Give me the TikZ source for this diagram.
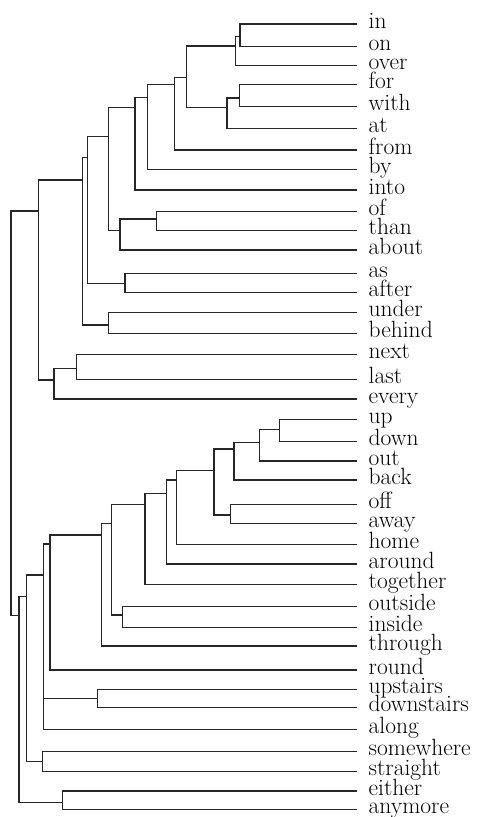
\documentclass[tikz,border=0pt]{standalone}
\usepackage{tikz}
\begin{document}
\begin{tikzpicture}[x=1pt,y=-1pt,
  lbl/.style={anchor=base west,inner sep=0pt,font=\fontsize{23.5}{26}\selectfont},
  branch/.style={line width=1.4pt,draw=black!85,line join=miter}]
\useasboundingbox (0,0) rectangle (484,817);
% leaves
\foreach \n/\y in {in/24, on/46.7, over/65.7, for/84.3, with/106.7, at/128.3, from/150, by/169.3, into/190,
  of/211.7, than/230.7, about/250, as/273.3, after/292.7, under/312.3, behind/333.3, next/354.3, last/379.3, every/399,
  up/419.3, down/441.7, out/461, back/480, off/504.3, away/523.3, home/544.3, around/564, together/584.3,
  outside/606.7, inside/627.7, through/646, round/670, upstairs/689.3, downstairs/707.7, along/729.3,
  somewhere/751.7, straight/771.7, either/791, anymore/809.3}{
  \coordinate (L-\n) at (356.7,\y);
  \node[lbl] (T-\n) at (368.5,\y+4.2) {\n};
}
% internal nodes
\coordinate (n1) at (240,36.7);
\coordinate (n2) at (235.5,46);
\coordinate (n3) at (239.5,98);
\coordinate (n4) at (227,107.3);
\coordinate (n5) at (186.5,77.3);
\coordinate (n6) at (174.5,84.3);
\coordinate (n7) at (147.3,97.7);
\coordinate (n8) at (135,107.3);
\coordinate (n9) at (156.7,219);
\coordinate (n10) at (120,230.7);
\coordinate (n11) at (108.3,136.7);
\coordinate (n12) at (125,283.3);
\coordinate (n13) at (87.3,157.3);
\coordinate (n14) at (108.3,325);
\coordinate (n15) at (82.3,180);
\coordinate (n16) at (76.7,368.3);
\coordinate (n17) at (54,380);
\coordinate (n18) at (38.3,211);
\coordinate (m1) at (279.3,429.3);
\coordinate (m2) at (259.3,442.3);
\coordinate (m3) at (234,449);
\coordinate (m4) at (230.7,515);
\coordinate (m5) at (214,470.7);
\coordinate (m6) at (176.7,480);
\coordinate (m7) at (166.7,493.3);
\coordinate (m8) at (145,504.3);
\coordinate (m9) at (122.7,615);
\coordinate (m10) at (111.7,523.3);
\coordinate (m11) at (101.7,535);
\coordinate (m12) at (50,544);
\coordinate (m13) at (97.7,698.3);
\coordinate (m14) at (43.3,575);
\coordinate (m15) at (42.7,761.7);
\coordinate (m16) at (26.7,596.7);
\coordinate (m17) at (62.3,802.7);
\coordinate (m18) at (19,615.7);
\coordinate (root) at (11,413);
% branches
\foreach \p/\c in {n1/L-in, n1/L-on, n2/n1, n2/L-over, n3/L-for, n3/L-with, n4/n3, n4/L-at,
  n5/n2, n5/n4, n6/n5, n6/L-from, n7/n6, n7/L-by, n8/n7, n8/L-into,
  n9/L-of, n9/L-than, n10/n9, n10/L-about, n11/n8, n11/n10, n12/L-as, n12/L-after,
  n13/n11, n13/n12, n14/L-under, n14/L-behind, n15/n13, n15/n14,
  n16/L-next, n16/L-last, n17/n16, n17/L-every, n18/n15, n18/n17,
  m1/L-up, m1/L-down, m2/m1, m2/L-out, m3/m2, m3/L-back, m4/L-off, m4/L-away,
  m5/m3, m5/m4, m6/m5, m6/L-home, m7/m6, m7/L-around, m8/m7, m8/L-together,
  m9/L-outside, m9/L-inside, m10/m8, m10/m9, m11/m10, m11/L-through,
  m12/m11, m12/L-round, m13/L-upstairs, m13/L-downstairs,
  m14/m12, m14/m13, m14/L-along, m15/L-somewhere, m15/L-straight,
  m16/m14, m16/m15, m17/L-either, m17/L-anymore, m18/m16, m18/m17,
  root/n18, root/m18}{
  \draw[branch] (\c) -- (\p |- \c) -- (\p);
}
\end{tikzpicture}
\end{document}
